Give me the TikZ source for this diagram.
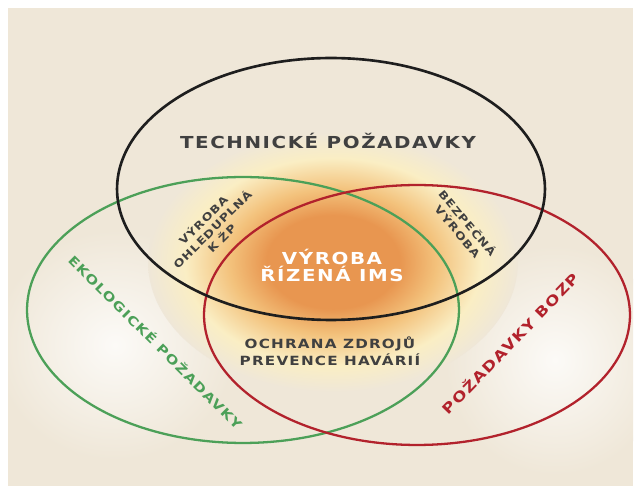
\documentclass[tikz,border=0pt]{standalone}
\usepackage{fontspec}
\setmainfont{DejaVu Sans}
\newfontfamily\vennfont[FakeStretch=1.2,LetterSpace=9.5]{DejaVu Sans}
\usetikzlibrary{shapes.geometric}

\definecolor{bgbeige}{RGB}{239,231,216}
\definecolor{glowcore}{RGB}{232,150,80}
\definecolor{glowmid}{RGB}{243,194,124}
\definecolor{glowpale}{RGB}{250,238,196}
\definecolor{ekogreen}{RGB}{76,160,88}
\definecolor{bozpred}{RGB}{178,34,44}
\definecolor{techblack}{RGB}{30,30,30}

\pgfdeclareradialshading{imsglow}{\pgfpoint{0bp}{0bp}}{color(0bp)=(glowcore); color(9bp)=(glowcore); color(14bp)=(glowmid); color(20bp)=(glowpale); color(25bp)=(bgbeige); color(50bp)=(bgbeige)}

\begin{document}
\begin{tikzpicture}[x=0.02cm, y=-0.02cm,
    ring/.style={draw, ellipse, inner sep=0pt, line width=1.3pt},
    bigtxt/.style={font=\vennfont\bfseries\fontsize{9.4}{9.7}\selectfont, align=center, inner sep=0pt},
    midtxt/.style={font=\vennfont\bfseries\fontsize{7.2}{9.7}\selectfont, align=center, inner sep=0pt},
    smalltxt/.style={font=\vennfont\bfseries\fontsize{6}{7.4}\selectfont, align=center, inner sep=0pt}]
    \useasboundingbox (0,0) rectangle (640,493);
    \fill[white] (0,0) rectangle (640,493);
    \fill[bgbeige] (8,8) rectangle (633,486); % paper
    \begin{scope}
      \clip (8,8) rectangle (633,486);
      \shade[inner color=white!80!bgbeige, outer color=bgbeige] (115,345) ellipse [x radius=2.4cm, y radius=2.3cm];
      \shade[inner color=white!80!bgbeige, outer color=bgbeige] (555,360) ellipse [x radius=2.2cm, y radius=2.3cm];
      \shade[shading=imsglow] (333,262) ellipse [x radius=3.7cm, y radius=2.6cm]; % glow in the middle
    \end{scope}

    \node[ring, draw=ekogreen, minimum width=8.64cm, minimum height=5.32cm] (eko) at (243,310) {};
    \node[ring, draw=bozpred, minimum width=8.52cm, minimum height=5.2cm] (bozp) at (417,315) {};
    \node[ring, draw=techblack, line width=1.5pt, minimum width=8.56cm, minimum height=5.24cm] (tech) at (331,189) {};

    \node[bigtxt, anchor=base, text=techblack!85] (techlbl) at (328,149) {TECHNICKÉ POŽADAVKY};
    \node[bigtxt, text=white] (imslbl) at (332,265) {VÝROBA\\ŘÍZENÁ IMS};
    \node[midtxt, text=techblack!85] (ochrana) at (330,351) {OCHRANA ZDROJŮ\\PREVENCE HAVÁRIÍ};
    \node[smalltxt, rotate=45, text=techblack!85] (ohled) at (212,229) {VÝROBA\\OHLEDUPLNÁ\\K ŽP};
    \node[smalltxt, rotate=-50, text=techblack!85] (bezp) at (463,227) {BEZPEČNÁ\\VÝROBA};
    \node[midtxt, rotate=-45, text=ekogreen] (ekolbl) at (156,342) {EKOLOGICKÉ POŽADAVKY};
    \node[midtxt, rotate=46, font=\vennfont\bfseries\fontsize{8}{9.7}\selectfont, text=bozpred] (bozplbl) at (510,343) {POŽADAVKY BOZP};
\end{tikzpicture}
\end{document}
